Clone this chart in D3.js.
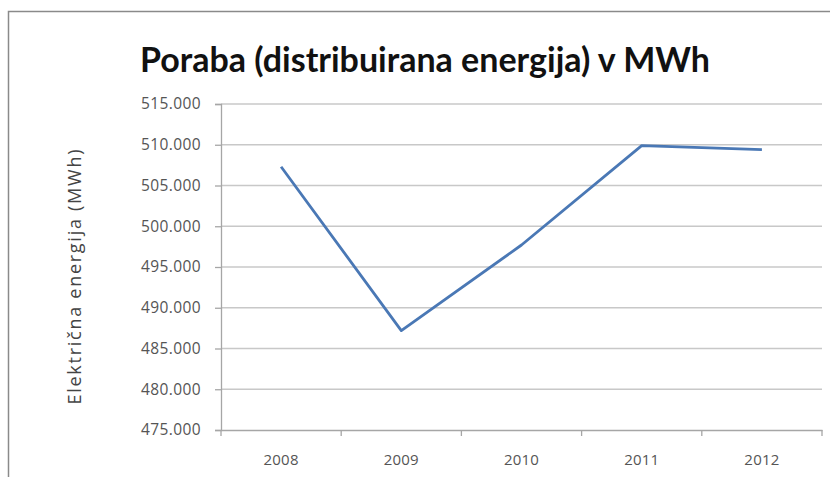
<!DOCTYPE html>
<html><head><meta charset="utf-8">
<script src="https://cdn.jsdelivr.net/npm/d3@7"></script>
<style>body{margin:0;background:#fff}svg{display:block}</style>
</head><body>
<svg id="c" width="830" height="477"></svg>
<script>
const categories = ["2008", "2009", "2010", "2011", "2012"];
const values = [507300, 487200, 497700, 509900, 509400];
const yTicks = [475000, 480000, 485000, 490000, 495000, 500000, 505000, 510000, 515000];
const titleText = "Poraba (distribuirana energija) v MWh";
const yTitle = "Električna energija (MWh)";

const svg = d3.select("#c");
const L = 221, R = 822, T = 104, B = 430;
const FONT = "'Open Sans', Lato, sans-serif";

svg.append("rect").attr("x", 8.5).attr("y", 11.5).attr("width", 900).attr("height", 600)
  .attr("fill", "#fff").attr("stroke", "#8a8a8a").attr("stroke-width", 1.5);

const x = d3.scaleBand().domain(categories).range([L, R]);
const y = d3.scaleLinear().domain([475000, 515000]).range([B, T]);
const fmtTick = d => (d / 1000).toFixed(3);

// gridlines
svg.append("g").selectAll("line").data(yTicks.filter(t => t !== 475000)).join("line")
  .attr("x1", L).attr("x2", R).attr("y1", d => y(d)).attr("y2", d => y(d))
  .attr("stroke", "#c8c8c8").attr("stroke-width", 1.3);

// y axis
const ya = svg.append("g").attr("transform", `translate(${L},0)`)
  .call(d3.axisLeft(y).tickValues(yTicks).tickFormat(fmtTick).tickSize(6).tickPadding(14));
ya.select(".domain").attr("stroke", "#a6a6a6").attr("stroke-width", 1.3);
ya.selectAll(".tick line").attr("stroke", "#a6a6a6").attr("stroke-width", 1.3);
ya.selectAll("text").attr("font-family", FONT).attr("font-size", 15.5)
  .attr("letter-spacing", 0.4).attr("fill", "#555");

// x axis
const xa = svg.append("g").attr("transform", `translate(0,${B})`)
  .call(d3.axisBottom(x).tickSize(0).tickPadding(24));
xa.select(".domain").attr("stroke", "#a6a6a6").attr("stroke-width", 1.3);
xa.selectAll("text").attr("font-family", FONT).attr("font-size", 15)
  .attr("letter-spacing", 0.2).attr("fill", "#555");
svg.append("g").selectAll("line").data(d3.range(categories.length + 1)).join("line")
  .attr("x1", i => L + i * x.bandwidth()).attr("x2", i => L + i * x.bandwidth())
  .attr("y1", B).attr("y2", B + 6).attr("stroke", "#a6a6a6").attr("stroke-width", 1.3);

// line
const line = d3.line().x((d, i) => x(categories[i]) + x.bandwidth() / 2).y(d => y(d));
svg.append("path").datum(values).attr("d", line).attr("fill", "none")
  .attr("stroke", "#4a78b5").attr("stroke-width", 2.8).attr("stroke-linejoin", "round");

// title
svg.append("text").attr("x", 425).attr("y", 72).attr("text-anchor", "middle")
  .attr("font-family", "Lato, sans-serif").attr("font-weight", "bold").attr("font-size", 34)
  .attr("fill", "#111").text(titleText);

// y title
svg.append("text").attr("transform", `translate(81,${(T + B) / 2 + 10}) rotate(-90)`)
  .attr("text-anchor", "middle").attr("font-family", FONT)
  .attr("font-size", 18).attr("textLength", 255).attr("lengthAdjust", "spacing")
  .attr("fill", "#444").text(yTitle);
</script>
</body></html>
